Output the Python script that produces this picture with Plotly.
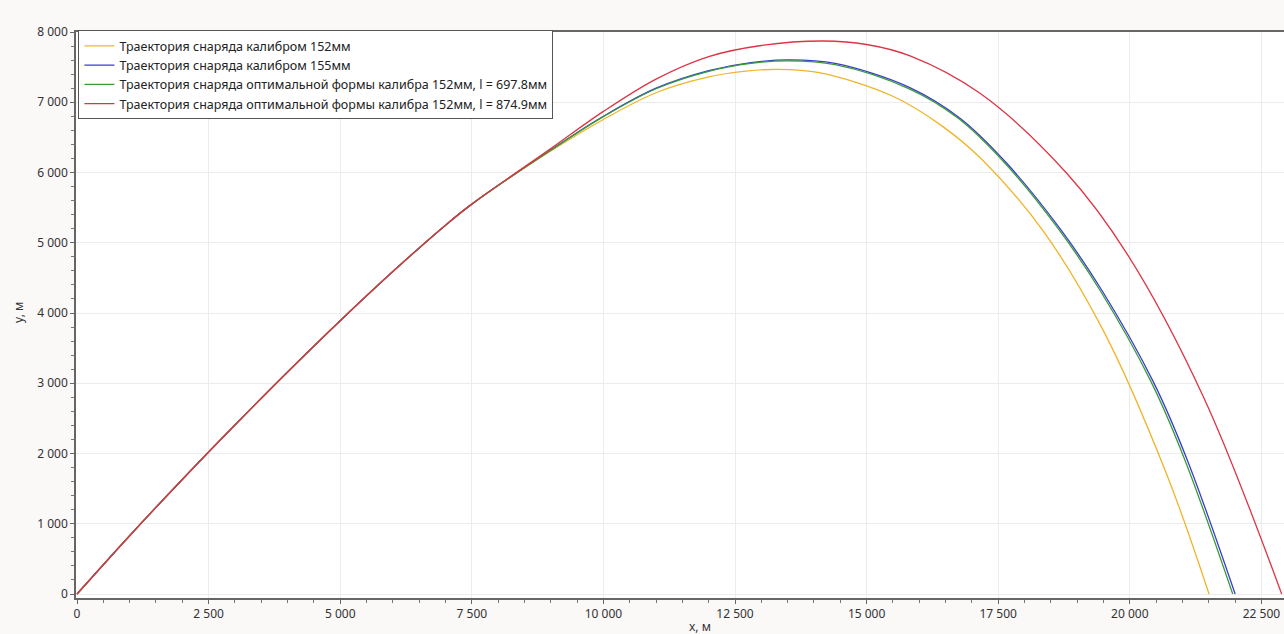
import plotly.graph_objects as go

# ---- data ----
names = [
    "Траектория снаряда калибром 152мм",
    "Траектория снаряда калибром 155мм",
    "Траектория снаряда оптимальной формы калибра 152мм, l = 697.8мм",
    "Траектория снаряда оптимальной формы калибра 152мм, l = 874.9мм",
]
colors = ["#f0b42a", "#3b3bd0", "#3a9a3a", "#dc3545"]

# common ascending branch (all four trajectories coincide here)
x_common = [0, 1000, 2000, 3000, 4000, 5000, 6000, 7000, 7500]
y_common = [0, 830, 1630, 2405, 3160, 3890, 4590, 5250, 5550]

x_152 = [9000, 10000, 11000, 12000, 12700, 13300, 14100, 15500, 16450, 17200, 18350, 19500, 20700, 21505]
y_152 = [6305, 6755, 7135, 7360, 7442, 7469, 7421, 7085, 6653, 6177, 5171, 3745, 1705, 0]

x_155 = [9000, 10000, 11000, 12000, 12800, 13550, 14400, 15800, 16774, 17662, 18674, 19465, 20447, 21080, 22001]
y_155 = [6320, 6800, 7200, 7450, 7565, 7603, 7552, 7216, 6772, 6131, 5200, 4327, 3020, 1930, 0]

x_opt1 = [9000, 10000, 11000, 12000, 12800, 13500, 14400, 15800, 16740, 17630, 18640, 19430, 20405, 21035, 21955]
y_opt1 = [6318, 6795, 7192, 7440, 7553, 7590, 7537, 7195, 6772, 6131, 5200, 4327, 3020, 1930, 0]

x_opt2 = [9000, 10000, 11000, 12000, 13000, 14178, 15000, 15825, 17154, 18801, 19941, 21397, 22885]
y_opt2 = [6340, 6870, 7330, 7650, 7808, 7872, 7822, 7660, 7127, 5989, 4850, 2809, 0]

series_x = [x_152, x_155, x_opt1, x_opt2]
series_y = [y_152, y_155, y_opt1, y_opt2]

fig = go.Figure()
for name, col, xs, ys in zip(names, colors, series_x, series_y):
    fig.add_trace(go.Scatter(
        x=x_common + xs, y=y_common + ys, name=name, mode="lines",
        line=dict(color=col, width=1.3, shape="spline", smoothing=1.0),
    ))

font_family = "Noto Sans, Open Sans, sans-serif"
fig.update_layout(
    width=1284, height=634,
    margin=dict(l=76, r=0, t=32, b=36),
    paper_bgcolor="#fbf8f8", plot_bgcolor="#ffffff",
    separators=". ",
    font=dict(family=font_family, size=12, color="#333333"),
    showlegend=True,
    legend=dict(
        x=0.002, y=1.003, xanchor="left", yanchor="top",
        bgcolor="#ffffff", bordercolor="#555555", borderwidth=1,
        font=dict(size=12.5, color="#222222"),
        tracegroupgap=0,
    ),
    xaxis=dict(
        range=[-19, 22929], tickvals=[0, 2500, 5000, 7500, 10000, 12500, 15000, 17500, 20000, 22500],
        tickformat=",d", automargin=False,
        showgrid=True, gridcolor="#ececec", gridwidth=1,
        zeroline=False,
        showline=True, linecolor="#666666", linewidth=1.5, mirror=True,
        ticks="outside", ticklen=4, tickcolor="#666666",
        minor=dict(dtick=500, ticks="outside", ticklen=3, tickcolor="#777777", showgrid=False),
    ),
    yaxis=dict(
        range=[-57, 8000], dtick=1000, tickformat=",d", automargin=False,
        showgrid=True, gridcolor="#ececec", gridwidth=1,
        zeroline=False,
        showline=True, linecolor="#666666", linewidth=1.5,
        ticks="outside", ticklen=4, tickcolor="#666666",
        minor=dict(dtick=200, ticks="outside", ticklen=3, tickcolor="#777777", showgrid=False),
    ),
    annotations=[
        dict(text="x, м", xref="paper", yref="paper", x=(700 - 76) / 1208, y=-(626 - 598) / 566,
             xanchor="center", yanchor="middle", showarrow=False, font=dict(size=12, color="#333333")),
        dict(text="y, м", xref="paper", yref="paper", x=-(76 - 18) / 1208, y=(598 - 313) / 566,
             xanchor="center", yanchor="middle", textangle=-90, showarrow=False,
             font=dict(size=12, color="#333333")),
    ],
)

# remove the browser's default body margin / scrollbars so the figure fills the window
page_fix = ("document.body.style.margin='0';"
            "document.body.style.overflow='hidden';"
            "document.documentElement.style.overflow='hidden';")
fig.write_html("out.html", post_script=page_fix, config={"displayModeBar": False})
